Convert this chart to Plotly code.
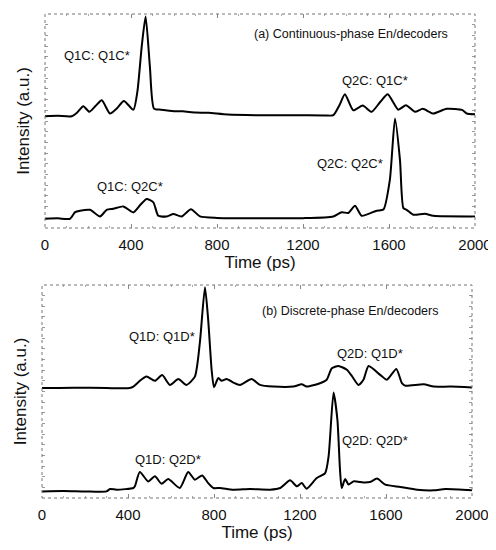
import plotly.graph_objects as go

# ---- data (time in ps, intensity in a.u., 0..1 per panel) ----
t_a_q1 = [0, 60, 124, 150, 178, 206, 235, 264, 302, 335, 367, 411, 430, 450, 468, 488, 507,
          540, 600, 640, 700, 760, 850, 1000, 1150, 1300, 1341, 1370, 1395, 1434, 1478, 1519,
          1560, 1594, 1643, 1679, 1721, 1757, 1806, 1868, 1940, 1961, 2000]
y_a_q1 = [0.522, 0.524, 0.522, 0.540, 0.569, 0.543, 0.570, 0.597, 0.535, 0.560, 0.594, 0.553,
          0.640, 0.850, 0.988, 0.752, 0.558, 0.553, 0.546, 0.545, 0.540, 0.538, 0.530, 0.527,
          0.527, 0.526, 0.527, 0.575, 0.625, 0.550, 0.572, 0.543, 0.590, 0.625, 0.553, 0.574,
          0.543, 0.557, 0.535, 0.557, 0.552, 0.535, 0.532]

t_a_q2 = [0, 60, 116, 140, 163, 209, 256, 287, 318, 364, 411, 445, 473, 504, 527, 566, 597,
          635, 679, 721, 800, 1000, 1200, 1341, 1380, 1411, 1442, 1473, 1543, 1574, 1604,
          1628, 1651, 1667, 1682, 1713, 1767, 1806, 2000]
y_a_q2 = [0.043, 0.045, 0.043, 0.074, 0.081, 0.085, 0.054, 0.085, 0.090, 0.101, 0.073,
          0.110, 0.136, 0.120, 0.057, 0.054, 0.065, 0.054, 0.088, 0.054, 0.047, 0.046, 0.046,
          0.054, 0.074, 0.070, 0.104, 0.057, 0.081, 0.086, 0.225, 0.512, 0.318, 0.093, 0.085,
          0.062, 0.067, 0.057, 0.054]

t_b_q1 = [0, 150, 300, 408, 425, 455, 486, 525, 559, 595, 634, 672, 711, 734, 758, 773, 789,
          800, 820, 836, 859, 890, 921, 975, 1014, 1076, 1169, 1208, 1231, 1293, 1324, 1348,
          1379, 1418, 1441, 1472, 1495, 1519, 1573, 1604, 1648, 1674, 1690, 1775, 1822, 1900,
          2000]
y_b_q1 = [0.516, 0.518, 0.516, 0.516, 0.523, 0.550, 0.570, 0.550, 0.577, 0.531, 0.559, 0.531,
          0.570, 0.727, 0.989, 0.836, 0.602, 0.520, 0.563, 0.550, 0.559, 0.542, 0.531, 0.559,
          0.531, 0.523, 0.523, 0.534, 0.523, 0.539, 0.555, 0.609, 0.620, 0.602, 0.573, 0.531,
          0.555, 0.620, 0.578, 0.555, 0.606, 0.539, 0.527, 0.534, 0.523, 0.523, 0.519]

t_b_q2 = [0, 100, 200, 300, 316, 347, 425, 432, 455, 494, 525, 556, 587, 641, 680, 711, 745,
          773, 797, 828, 890, 968, 1061, 1108, 1154, 1185, 1208, 1231, 1278, 1317, 1333, 1356,
          1374, 1386, 1394, 1410, 1426, 1449, 1495, 1526, 1558, 1597, 1667, 1745, 1822, 1876,
          2000]
y_b_q2 = [0.031, 0.033, 0.031, 0.031, 0.042, 0.039, 0.047, 0.055, 0.122, 0.078, 0.102,
          0.067, 0.089, 0.047, 0.122, 0.086, 0.106, 0.070, 0.047, 0.047, 0.039, 0.042, 0.039,
          0.047, 0.083, 0.055, 0.070, 0.044, 0.094, 0.117, 0.195, 0.495, 0.367, 0.133, 0.047,
          0.089, 0.063, 0.078, 0.073, 0.075, 0.091, 0.063, 0.052, 0.039, 0.036, 0.042, 0.036]

labels_a = ["Q1C: Q1C*", "Q2C: Q1C*", "Q2C: Q2C*", "Q1C: Q2C*"]
labels_a_pos = [(240, 0.806), (1535, 0.690), (1419, 0.302), (395, 0.194)]
labels_b = ["Q1D: Q1D*", "Q2D: Q1D*", "Q2D: Q2D*", "Q1D: Q2D*"]
labels_b_pos = [(556, 0.758), (1527, 0.680), (1550, 0.270), (587, 0.180)]

# page body adds an 8px margin, so the figure is 8px smaller than the window
W, H = 488, 542
FONT = "Arial, Liberation Sans, sans-serif"

fig = go.Figure()
line = dict(color="black", width=2, shape="spline", smoothing=0.6)
fig.add_trace(go.Scatter(x=t_a_q1, y=y_a_q1, mode="lines", line=line, xaxis="x", yaxis="y"))
fig.add_trace(go.Scatter(x=t_a_q2, y=y_a_q2, mode="lines", line=line, xaxis="x", yaxis="y"))
fig.add_trace(go.Scatter(x=t_b_q1, y=y_b_q1, mode="lines", line=line, xaxis="x2", yaxis="y2"))
fig.add_trace(go.Scatter(x=t_b_q2, y=y_b_q2, mode="lines", line=line, xaxis="x2", yaxis="y2"))

xax = dict(range=[0, 2000], tickvals=[0, 400, 800, 1200, 1600, 2000], ticks="inside",
           ticklen=4, tickcolor="#888", showgrid=False, zeroline=False, showline=False,
           mirror="ticks", automargin=False, ticklabelstandoff=6,
           minor=dict(dtick=100, ticks="inside", ticklen=2, tickcolor="#aaa"),
           tickfont=dict(size=15, color="#111", family=FONT),
           title=dict(text="Time (ps)", font=dict(size=17, color="#111", family=FONT), standoff=0))
yax = dict(range=[0, 1], dtick=0.05, ticks="inside", ticklen=3, tickcolor="#999",
           showticklabels=False, showgrid=False, zeroline=False, showline=False, mirror="ticks",
           automargin=False,
           title=dict(text="Intensity (a.u.)", font=dict(size=17, color="#111", family=FONT),
                      standoff=10))

fig.update_layout(
    width=W, height=H, showlegend=False,
    paper_bgcolor="white", plot_bgcolor="white",
    margin=dict(l=0, r=0, t=0, b=0),
    font=dict(family=FONT, color="#111"),
    xaxis=dict(xax, domain=[37 / W, 467 / W], anchor="y"),
    yaxis=dict(yax, domain=[1 - 220 / H, 1 - 6 / H], anchor="x"),
    xaxis2=dict(xax, domain=[34 / W, 464 / W], anchor="y2"),
    yaxis2=dict(yax, domain=[1 - 490 / H, 1 - 277 / H], anchor="x2"),
)

# dotted frames
for xr, yr in [("x", "y"), ("x2", "y2")]:
    fig.add_shape(type="rect", xref=f"{xr} domain", yref=f"{yr} domain", x0=0, x1=1, y0=0, y1=1,
                  line=dict(color="#777", width=1, dash="dot"))

ann = []
ann.append(dict(x=1422, y=0.907, xref="x", yref="y", text="(a) Continuous-phase En/decoders",
                showarrow=False, font=dict(size=12.5, color="#111", family=FONT)))
ann.append(dict(x=1433, y=0.878, xref="x2", yref="y2", text="(b) Discrete-phase En/decoders",
                showarrow=False, font=dict(size=12.5, color="#111", family=FONT)))
for txt, (x, y) in zip(labels_a, labels_a_pos):
    ann.append(dict(x=x, y=y, xref="x", yref="y", text=txt, showarrow=False,
                    font=dict(size=13, color="#111", family=FONT)))
for txt, (x, y) in zip(labels_b, labels_b_pos):
    ann.append(dict(x=x, y=y, xref="x2", yref="y2", text=txt, showarrow=False,
                    font=dict(size=13, color="#111", family=FONT)))
fig.update_layout(annotations=ann)

fig.write_html("out.html")
